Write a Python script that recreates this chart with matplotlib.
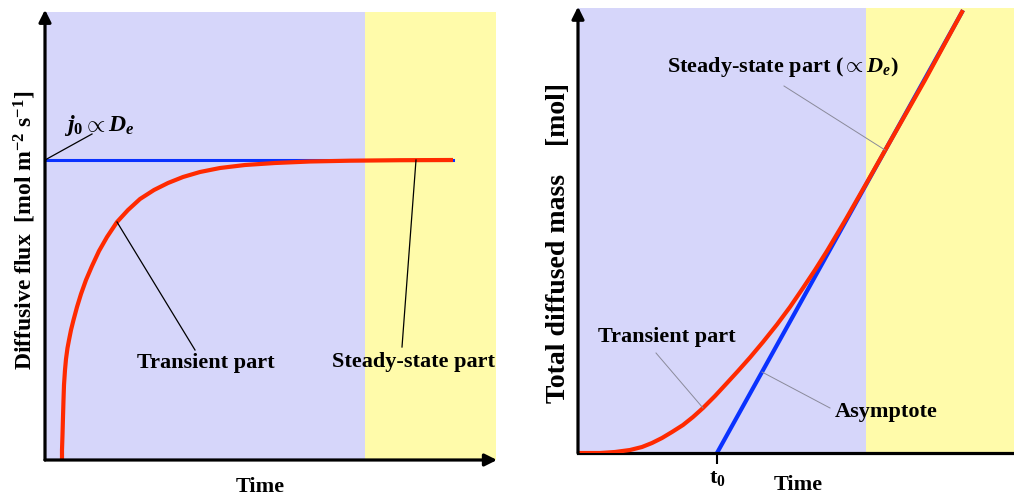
import matplotlib
matplotlib.use("Agg")
import matplotlib.pyplot as plt

# ------------------------------------------
# Données (unités arbitraires, sans graduation)
# ------------------------------------------

# Flux diffusif en fonction du temps
flux_t = [17, 17, 17.5, 18, 18.5, 19, 20, 21, 22.5, 24, 26, 28.5, 32, 36, 41,
          47, 54, 62, 72, 83, 95, 109, 123, 138, 155, 175, 200, 230, 265, 305,
          355, 408]
flux_v = [0, 10, 25, 43, 60, 75, 90, 101, 112, 120, 130, 140, 153, 166, 180,
          194, 209, 223, 238, 250, 261, 270, 277, 283, 288, 292, 295, 297,
          298.5, 299.3, 299.8, 300]

# Flux stationnaire j0
j0_t = [0, 408]
j0_v = [300, 300]

# Masse totale diffusée en fonction du temps
mass_t = [0, 22, 37, 52, 64, 74, 84, 94, 105, 115, 125, 137, 149, 160, 172,
          185, 199, 212, 225, 237, 249, 268, 288, 309, 347, 384]
mass_v = [0, 0, 1, 3, 6, 10, 15, 21, 28, 36, 45, 57, 70, 82, 95.5,
          111, 128.5, 146, 165, 183, 202, 234, 269, 306, 373, 441]

# Asymptote du régime permanent, coupe l'axe du temps en t0
t0 = 139
asym_t = [t0, 384]
asym_v = [0, 441]

# Limites des axes et fin du régime transitoire
flux_xmax, flux_ymax = 452, 448
mass_xmax, mass_ymax = 436, 445
flux_transient_end = 320
mass_transient_end = 288

# ------------------------------------------
# Style
# ------------------------------------------
plt.rcParams['font.family'] = ['Liberation Serif', 'DejaVu Serif']
plt.rcParams['font.weight'] = 'bold'
plt.rcParams['axes.labelweight'] = 'bold'
plt.rcParams['font.size'] = 16
plt.rcParams['mathtext.fontset'] = 'custom'
plt.rcParams['mathtext.rm'] = 'Liberation Serif:bold'
plt.rcParams['mathtext.bf'] = 'Liberation Serif:bold'
plt.rcParams['mathtext.it'] = 'Liberation Serif:bold:italic'

LAVENDER = '#d6d6fa'
YELLOW = '#fffbaa'
RED = '#ff2a00'
BLUE = '#0a32ff'
GREY = '#8a8a9a'
W, H = 1014, 499

fig = plt.figure(figsize=(W / 100, H / 100), dpi=100)


def px_axes(x0, x1, y_top, y_bottom):
    return fig.add_axes([x0 / W, (H - y_bottom) / H, (x1 - x0) / W, (y_bottom - y_top) / H])


def draw_arrow(ax, start, end):
    ax.annotate('', xy=end, xytext=start, xycoords='axes fraction',
                arrowprops=dict(arrowstyle='-|>', lw=2.3, color='black',
                                mutation_scale=18, shrinkA=0, shrinkB=0),
                annotation_clip=False, zorder=10)


def leader(ax, p0, p1, color='black', lw=0.9):
    ax.plot([p0[0], p1[0]], [p0[1], p1[1]], color=color, lw=lw, zorder=4)


# ==========================================
# 1. FLUX DIFFUSIF
# ==========================================
ax1 = px_axes(45, 497, 12, 460)
ax1.set_xlim(0, flux_xmax)
ax1.set_ylim(0, flux_ymax)
ax1.axvspan(0, flux_transient_end, color=LAVENDER, lw=0, zorder=0)
ax1.axvspan(flux_transient_end, flux_xmax - 1, color=YELLOW, lw=0, zorder=0)

ax1.plot(j0_t, j0_v, color=BLUE, lw=2.2, zorder=2)
ax1.plot(flux_t, flux_v, color=RED, lw=3.0, zorder=3,
         solid_joinstyle='round', solid_capstyle='butt')

leader(ax1, (0, 300), (47, 326))
ax1.text(19, 335, r'$j_0 \propto D_e$', fontsize=17, ha='left', va='center')
leader(ax1, (72, 238), (150, 110))
ax1.text(161, 97, 'Transient part', ha='center', va='center')
leader(ax1, (371, 300), (357, 113))
ax1.text(369, 98, 'Steady-state part', ha='center', va='center')

ax1.text(-0.044, 0.513, r'Diffusive flux  [mol m$^{-2}$ s$^{-1}$]', fontsize=17,
         transform=ax1.transAxes, rotation=90, ha='center', va='center')
ax1.set_xlabel('Time')
ax1.xaxis.set_label_coords(0.476, -0.06)
ax1.xaxis.label.set_va('center')

ax1.set_xticks([])
ax1.set_yticks([])
for s in ax1.spines.values():
    s.set_visible(False)
draw_arrow(ax1, (0, 0), (0, 1.005))
draw_arrow(ax1, (0, 0), (1.0, 0))

# ==========================================
# 2. MASSE TOTALE DIFFUSÉE
# ==========================================
ax2 = px_axes(578, 1014, 8, 453)
ax2.set_xlim(0, mass_xmax)
ax2.set_ylim(0, mass_ymax)
ax2.axvspan(0, mass_transient_end, color=LAVENDER, lw=0, zorder=0)
ax2.axvspan(mass_transient_end, mass_xmax, color=YELLOW, lw=0, zorder=0)

ax2.plot(asym_t, asym_v, color=BLUE, lw=3.0, zorder=2)
ax2.plot(mass_t, mass_v, color=RED, lw=3.0, zorder=3, solid_joinstyle='round')

ax2.text(205, 386, r'Steady-state part ($\propto D_e$)', ha='center', va='center')
leader(ax2, (206, 367), (307, 303), color=GREY, lw=0.7)
ax2.text(89, 116, 'Transient part', ha='center', va='center')
leader(ax2, (78, 100), (125, 45), color=GREY, lw=0.7)
ax2.text(308, 41, 'Asymptote', ha='center', va='center')
leader(ax2, (184, 81), (252, 45), color=GREY, lw=0.7)

ax2.text(-0.045, 0.472, 'Total diffused mass    [mol]', fontsize=20,
         transform=ax2.transAxes, rotation=90, ha='center', va='center')

ax2.set_xticks([t0])
ax2.set_xticklabels([r't$_0$'])
ax2.tick_params(axis='x', direction='out', length=8, width=1.5, pad=3, labelsize=16)
ax2.set_yticks([])
ax2.set_xlabel('Time')
ax2.xaxis.set_label_coords(0.505, -0.072)
ax2.xaxis.label.set_va('center')
for name, s in ax2.spines.items():
    if name == 'bottom':
        s.set_linewidth(2.3)
    else:
        s.set_visible(False)
draw_arrow(ax2, (0, 0), (0, 1.003))

fig.savefig('out.png', dpi=100)
plt.close(fig)
